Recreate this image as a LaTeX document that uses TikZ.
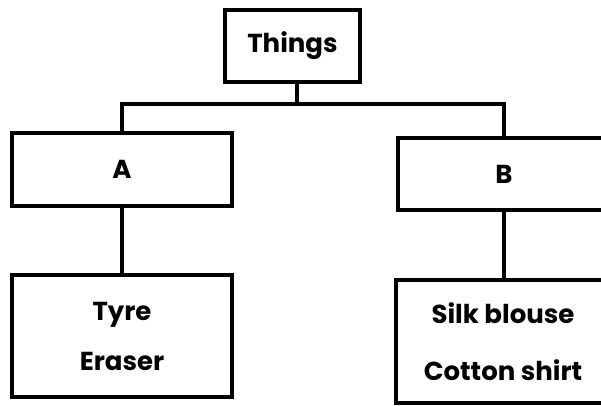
\documentclass[tikz,border=0pt]{standalone}
\usepackage{fontspec}
\setmainfont{Poppins}
\begin{document}
\begin{tikzpicture}[x=1pt,y=-1pt,
  box/.style={draw, line width=3.6pt, inner sep=0pt, align=center,
    font=\bfseries\fontsize{26}{50}\selectfont},
  link/.style={line width=3.4pt}]
\useasboundingbox (0,0) rectangle (601,405);
\clip (0,0) rectangle (601,405);
\node[box, minimum width=135pt, minimum height=72pt] (things) at (292.5,46) {Things};
\node[box, minimum width=220pt, minimum height=73pt] (A) at (122,169.5) {A};
\node[box, minimum width=212pt, minimum height=72pt] (B) at (504,174) {B};
\node[box, minimum width=220pt, minimum height=122pt] (tyre) at (122,336) {Tyre\\Eraser};
\node[box, minimum width=214pt, minimum height=123pt, font=\bfseries\fontsize{26}{57}\selectfont] (silk) at (503,341.5) {Silk blouse\\Cotton shirt};
\coordinate (j) at (297,104);
\draw[link] (things.south -| j) -- (j);
\draw[link] (A.north) |- (j) -| (B.north);
\draw[link] (A.south) -- (tyre.north);
\draw[link] (B.south) -- (B.south |- silk.north);
\end{tikzpicture}
\end{document}
